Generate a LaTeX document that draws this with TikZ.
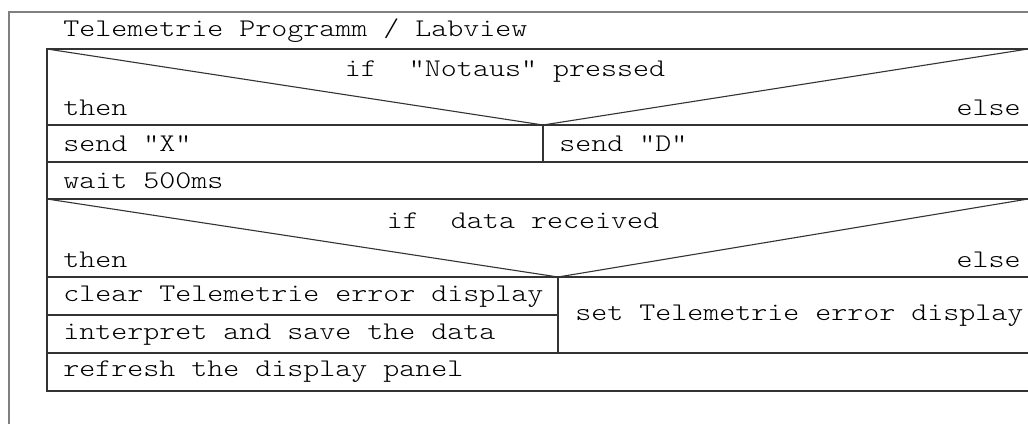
\documentclass[tikz,border=0pt]{standalone}
\usepackage{fontspec}
\setmonofont{Latin Modern Mono Light}[FakeStretch=1.2]
\usetikzlibrary{positioning}

\begin{document}
\begin{tikzpicture}[
      x=0.5pt,y=-0.5pt,
      nsline/.style={
         draw=black!80,
         line width=0.55pt},
      frameline/.style={
         draw=black!50,
         line width=0.8pt},
      nstext/.style={
         font=\ttfamily\fontsize{12.7}{15}\selectfont,
         inner sep=0pt,
         anchor=west}
      ]
      \useasboundingbox (0,0) rectangle (1028,423);
      \clip (0,0) rectangle (1028,423);

      % outer frame (runs off the page at right and bottom)
      \draw[frameline] (1040,12) -- (9,12) -- (9,440);

      % block outline and rows
      \draw[nsline] (1040,49) -- (47,49) -- (47,391) -- (1040,391);
      \foreach \y in {125,162,199,277,353}
         \draw[nsline] (47,\y) -- (1040,\y);
      \draw[nsline] (47,315) -- (558,315);
      \draw[nsline] (543,125) -- (543,162);
      \draw[nsline] (558,277) -- (558,353);

      % decision triangles
      \draw[nsline] (47,49) -- (543,125) -- (1028,49);
      \draw[nsline] (47,199) -- (558,277) -- (1028,199);

      \node[nstext] (title) at (63,31) {Telemetrie Programm / Labview};

      \node[nstext,anchor=center] (if1) at (505,72) {if\ \ "Notaus" pressed};
      \node[nstext] (then1) at (63,108) {then};
      \node[nstext,anchor=east] (else1) at (1021,108) {else};
      \node[nstext] (sendx) at (63,144) {send "X"};
      \node[nstext] (sendd) at (559,144) {send "D"};
      \node[nstext] (wait) at (63,181) {wait 500ms};

      \node[nstext,anchor=center] (if2) at (523,221) {if\ \ data received};
      \node[nstext] (then2) at (63,260) {then};
      \node[nstext,anchor=east] (else2) at (1021,260) {else};
      \node[nstext] (clear) at (63,297) {clear Telemetrie error display};
      \node[nstext] (interp) at (63,335) {interpret and save the data};
      \node[nstext] (seterr) at (575,316) {set Telemetrie error display};
      \node[nstext] (refresh) at (63,372) {refresh the display panel};
\end{tikzpicture}
\end{document}
